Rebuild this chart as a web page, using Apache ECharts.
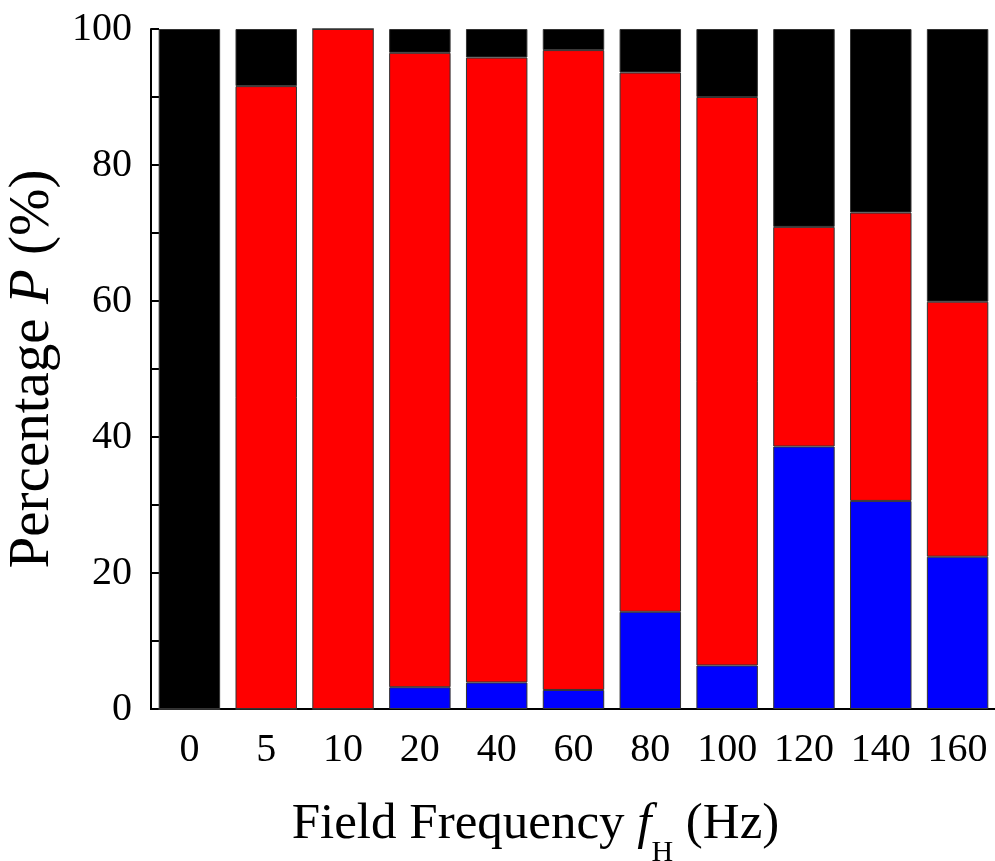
<!DOCTYPE html>
<html>
<head>
<meta charset="utf-8">
<script src="https://cdn.jsdelivr.net/npm/echarts@6/dist/echarts.min.js"></script>
<style>
  html, body { margin: 0; padding: 0; background: #fff; }
  #chart { width: 995px; height: 861px; }
</style>
</head>
<body>
<div id="chart"></div>
<script>
// Field frequency categories (Hz)
const frequencies = ['0', '5', '10', '20', '40', '60', '80', '100', '120', '140', '160'];
// Stacked percentage segments, bottom to top
const blueShare  = [0, 0, 0, 3.2, 3.9, 2.8, 14.3, 6.4, 38.6, 30.6, 22.4];
const redShare   = [0, 91.6, 100, 93.3, 91.9, 94.1, 79.3, 83.6, 32.3, 42.4, 37.5];
const blackShare = [100, 8.4, 0, 3.5, 4.2, 3.1, 6.4, 10.0, 29.1, 27.0, 40.1];
// Y tick values that carry a label
const yTickLabels = [0, 20, 40, 60, 80, 100];

const FONT = "'Liberation Serif', 'Times New Roman', serif";

const chart = echarts.init(document.getElementById('chart'), null, { renderer: 'canvas' });

function barSeries(name, data, color) {
  return {
    name: name,
    type: 'bar',
    stack: 'total',
    data: data,
    barCategoryGap: '20%',
    itemStyle: { color: color, borderColor: '#333', borderWidth: 1 },
    emphasis: { disabled: true }
  };
}

chart.setOption({
  animation: false,
  backgroundColor: '#fff',
  grid: {
    left: 151, top: 29, width: 845, height: 680,
    containLabel: false,
    outerBoundsMode: 'none'
  },
  xAxis: [{
    type: 'category',
    data: frequencies,
    position: 'bottom',
    axisLine: { lineStyle: { color: '#000', width: 2 } },
    axisTick: { alignWithLabel: true, length: 14, lineStyle: { color: '#000', width: 2 } },
    axisLabel: { interval: 0, color: '#000', fontFamily: FONT, fontSize: 40, margin: 21 },
    name: '{n|Field Frequency }{i|f}{s|H}{e| (Hz)}',
    nameLocation: 'middle',
    nameGap: 90,
    nameTextStyle: {
      rich: {
        n: { fontFamily: FONT, fontSize: 51, color: '#000', lineHeight: 51 },
        i: { fontFamily: FONT, fontSize: 51, color: '#000', lineHeight: 51, fontStyle: 'italic' },
        s: { fontFamily: FONT, fontSize: 30, color: '#000', lineHeight: 30, padding: [58, 0, 0, 0] },
        e: { fontFamily: FONT, fontSize: 51, color: '#000', lineHeight: 51, padding: [0, 76, 0, 0] }
      }
    }
  }, {
    type: 'category',
    data: frequencies,
    position: 'top',
    axisLine: { lineStyle: { color: '#000', width: 2 } },
    axisTick: { show: false },
    axisLabel: { show: false }
  }],
  yAxis: [{
    type: 'value',
    min: 0,
    max: 100,
    interval: 10,
    position: 'left',
    axisLine: { show: true, lineStyle: { color: '#000', width: 2 } },
    axisTick: { show: true, inside: true, length: 8, lineStyle: { color: '#000', width: 2 } },
    splitLine: { show: false },
    axisLabel: {
      color: '#000', fontFamily: FONT, fontSize: 40, margin: 19,
      formatter: v => (yTickLabels.indexOf(v) >= 0 ? String(v) : '')
    },
    name: '{n|Percentage }{i|P}{n| (%)}',
    nameLocation: 'middle',
    nameGap: 72,
    nameRotate: 90,
    nameTextStyle: {
      rich: {
        n: { fontFamily: FONT, fontSize: 57, color: '#000' },
        i: { fontFamily: FONT, fontSize: 57, color: '#000', fontStyle: 'italic' }
      }
    }
  }, {
    type: 'value',
    min: 0,
    max: 100,
    interval: 10,
    position: 'right',
    axisLine: { show: true, lineStyle: { color: '#000', width: 2 } },
    axisTick: { show: false },
    axisLabel: { show: false },
    splitLine: { show: false }
  }],
  series: [
    barSeries('blue', blueShare, '#0000ff'),
    barSeries('red', redShare, '#ff0000'),
    barSeries('black', blackShare, '#000000')
  ]
});
</script>
</body>
</html>
